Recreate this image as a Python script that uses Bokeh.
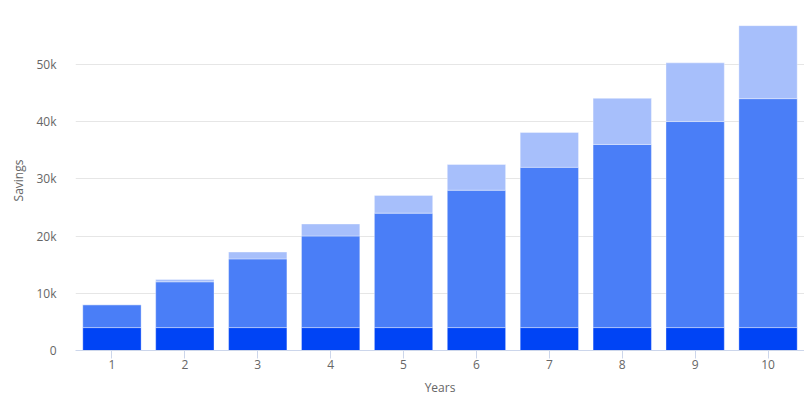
from bokeh.plotting import figure
from bokeh.models import FactorRange, Range1d, SingleIntervalTicker, NumeralTickFormatter
from bokeh.embed import file_html
from bokeh.resources import INLINE

years = ["1", "2", "3", "4", "5", "6", "7", "8", "9", "10"]
initial = [4000, 4000, 4000, 4000, 4000, 4000, 4000, 4000, 4000, 4000]
contributions = [4000, 8000, 12000, 16000, 20000, 24000, 28000, 32000, 36000, 40000]
interest = [0, 400, 1200, 2100, 3100, 4500, 6100, 8050, 10250, 12750]

colors = ["#0044f5", "#4a7ef7", "#a7bffb"]
FONT = "Open Sans"

p = figure(x_range=FactorRange(*years, range_padding=0), y_range=Range1d(0, 59400),
           width=804, height=398, output_backend="svg", toolbar_location=None,
           min_border_left=75, min_border_right=0, min_border_top=10, min_border_bottom=47)
p.outline_line_color = None

data = dict(years=years, initial=initial, contributions=contributions, interest=interest)
p.vbar_stack(["initial", "contributions", "interest"], x="years", width=0.8, source=data,
             color=colors, line_color="white", line_alpha=0.35, line_width=1)

p.xgrid.grid_line_color = None
p.ygrid.grid_line_color = "#e6e6e6"

yax = p.yaxis[0]
yax.ticker = SingleIntervalTicker(interval=10000)
yax.formatter = NumeralTickFormatter(format="0a")
yax.axis_line_color = None
yax.major_tick_line_color = None
yax.minor_tick_line_color = None
yax.major_tick_out = 0
yax.major_label_standoff = 15
yax.axis_label = "Savings"
yax.axis_label_standoff = 6
yax.axis_label_text_font_style = "normal"

xax = p.xaxis[0]
xax.axis_line_color = "#ccd6eb"
xax.major_tick_line_color = "#ccd6eb"
xax.major_tick_in = 0
xax.major_tick_out = 8
xax.major_label_standoff = 1
xax.axis_label = "Years"
xax.axis_label_standoff = 7
xax.axis_label_text_font_style = "normal"

for ax in (xax, yax):
    ax.major_label_text_font = FONT
    ax.major_label_text_font_size = "12px"
    ax.major_label_text_color = "#666666"
    ax.axis_label_text_font = FONT
    ax.axis_label_text_font_size = "12px"
    ax.axis_label_text_color = "#666666"

open("out.html", "w").write(file_html(p, INLINE))
